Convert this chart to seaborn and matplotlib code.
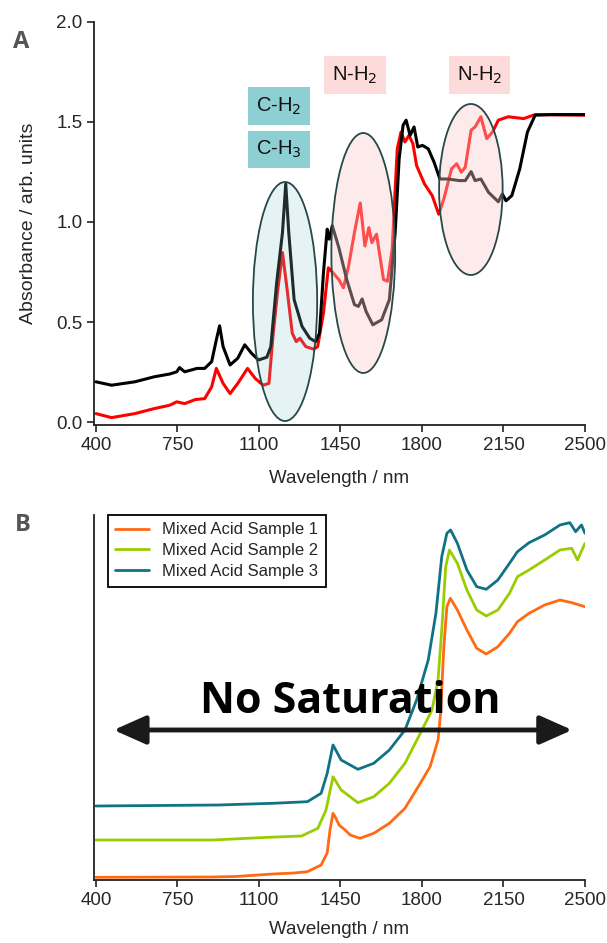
import matplotlib.pyplot as plt
import pandas as pd
import seaborn as sns
from matplotlib.patches import Ellipse

sns.set_theme(style="ticks")
plt.rcParams["font.family"] = ["Liberation Sans", "DejaVu Sans"]

# ---------------- Panel A data ----------------
wl_black = [400, 467, 567, 650, 717, 747, 759, 781, 834, 867, 897, 917, 931, 946,
            976, 1009, 1039, 1068, 1098, 1134, 1151, 1176, 1201, 1215, 1228, 1251,
            1285, 1318, 1343, 1360, 1377, 1393, 1402, 1415, 1443, 1477, 1510, 1527,
            1543, 1560, 1589, 1627, 1660, 1685, 1702, 1719, 1732, 1749, 1766, 1782,
            1802, 1827, 1852, 1877, 1911, 1961, 1986, 2011, 2028, 2053, 2086, 2128,
            2145, 2161, 2186, 2220, 2253, 2286, 2353, 2500]
abs_black = [0.201, 0.184, 0.201, 0.226, 0.240, 0.251, 0.272, 0.251, 0.268, 0.268,
             0.302, 0.411, 0.481, 0.377, 0.285, 0.319, 0.386, 0.344, 0.310, 0.324,
             0.377, 0.696, 0.947, 1.190, 0.947, 0.612, 0.478, 0.419, 0.402, 0.444,
             0.746, 0.964, 0.914, 0.981, 0.872, 0.712, 0.587, 0.578, 0.615, 0.553,
             0.486, 0.511, 0.612, 0.947, 1.316, 1.484, 1.509, 1.433, 1.475, 1.375,
             1.383, 1.366, 1.299, 1.215, 1.215, 1.207, 1.207, 1.252, 1.207, 1.215,
             1.148, 1.101, 1.140, 1.106, 1.132, 1.266, 1.450, 1.534, 1.537, 1.537]

wl_red = [400, 467, 567, 650, 717, 747, 781, 826, 867, 897, 917, 946, 976, 1009,
          1051, 1084, 1118, 1143, 1160, 1181, 1201, 1221, 1243, 1260, 1276, 1301,
          1335, 1352, 1377, 1398, 1418, 1443, 1463, 1485, 1510, 1535, 1555, 1572,
          1585, 1605, 1635, 1652, 1672, 1694, 1710, 1727, 1744, 1761, 1777, 1811,
          1844, 1872, 1894, 1927, 1949, 1969, 1986, 2011, 2028, 2053, 2078, 2103,
          2128, 2170, 2237, 2286, 2500]
abs_red = [0.042, 0.022, 0.042, 0.067, 0.084, 0.101, 0.092, 0.112, 0.117, 0.176,
           0.268, 0.193, 0.142, 0.193, 0.268, 0.218, 0.184, 0.193, 0.427, 0.662,
           0.847, 0.662, 0.444, 0.402, 0.419, 0.377, 0.364, 0.377, 0.545, 0.771,
           0.746, 0.712, 0.671, 0.780, 0.947, 1.095, 0.880, 0.972, 0.897, 0.939,
           0.712, 0.704, 0.863, 1.366, 1.450, 1.400, 1.433, 1.392, 1.282, 1.190,
           1.132, 1.039, 1.115, 1.266, 1.291, 1.249, 1.274, 1.459, 1.475, 1.526,
           1.417, 1.450, 1.509, 1.526, 1.517, 1.537, 1.534]

# band labels: text, centre wavelength, centre absorbance, box colour
band_labels = ["C-H$_2$", "C-H$_3$", "N-H$_2$", "N-H$_2$"]
band_x = [1186, 1186, 1512, 2047]
band_y = [1.58, 1.3625, 1.735, 1.735]
band_colors = ["#8ecfd4", "#8ecfd4", "#fddbdb", "#fddbdb"]

# highlighted regions: centre (nm, abs), width (nm), height (abs)
ell_x = [1212, 1548, 2010]
ell_y = [0.6025, 0.845, 1.1625]
ell_w = [276, 274, 273]
ell_h = [1.195, 1.2, 0.855]
ell_fill = [(0.55, 0.80, 0.82, 0.22), (0.99, 0.80, 0.80, 0.38), (0.99, 0.80, 0.80, 0.38)]

# ---------------- Panel B data ----------------
sample_names = ["Mixed Acid Sample 1", "Mixed Acid Sample 2", "Mixed Acid Sample 3"]
sample_colors = ["#ff6a13", "#9acd00", "#0f7385"]

wl_s1 = [400, 900, 1000, 1160, 1250, 1308, 1367, 1393, 1405, 1418, 1430, 1444, 1470,
         1492, 1534, 1593, 1660, 1727, 1784, 1835, 1869, 1880, 1894, 1907, 1922, 1952,
         1993, 2035, 2076, 2126, 2176, 2210, 2260, 2327, 2393, 2443, 2500]
y_s1 = [0.027, 0.030, 0.035, 0.060, 0.070, 0.083, 0.150, 0.270, 0.500, 0.667, 0.620,
        0.550, 0.500, 0.450, 0.417, 0.467, 0.567, 0.717, 0.933, 1.133, 1.400, 1.667,
        2.333, 2.733, 2.817, 2.700, 2.500, 2.317, 2.260, 2.333, 2.467, 2.583, 2.667,
        2.750, 2.800, 2.773, 2.733]

wl_s2 = [400, 900, 1140, 1283, 1353, 1388, 1418, 1453, 1525, 1593, 1660, 1727, 1793,
         1843, 1869, 1885, 1902, 1918, 1952, 1993, 2035, 2076, 2126, 2176, 2210, 2260,
         2327, 2393, 2443, 2468, 2500]
y_s2 = [0.400, 0.400, 0.427, 0.440, 0.517, 0.700, 1.033, 0.900, 0.773, 0.833, 0.967,
        1.167, 1.467, 1.700, 2.000, 2.500, 3.133, 3.300, 3.167, 2.900, 2.700, 2.640,
        2.700, 2.867, 3.033, 3.100, 3.200, 3.300, 3.317, 3.200, 3.367]

wl_s3 = [400, 926, 1159, 1308, 1367, 1393, 1418, 1453, 1525, 1593, 1660, 1727, 1777,
         1827, 1860, 1885, 1907, 1923, 1952, 1993, 2035, 2076, 2126, 2176, 2210, 2260,
         2327, 2393, 2435, 2460, 2485, 2500]
y_s3 = [0.740, 0.750, 0.767, 0.783, 0.867, 1.067, 1.350, 1.200, 1.107, 1.167, 1.300,
        1.500, 1.800, 2.200, 2.667, 3.233, 3.467, 3.500, 3.367, 3.100, 2.933, 2.907,
        3.000, 3.167, 3.283, 3.373, 3.450, 3.550, 3.573, 3.483, 3.550, 3.467]

ticks_x = [400, 750, 1100, 1450, 1800, 2150, 2500]

fig = plt.figure(figsize=(6.07, 9.43), dpi=100)

# -------------------------------------------------------------------
# Panel A
# -------------------------------------------------------------------
axA = fig.add_axes([0.155, 0.5493, 0.8087, 0.4274])
sns.lineplot(x=wl_black, y=abs_black, color="black", lw=2.2, sort=False,
             estimator=None, ax=axA, zorder=3)
sns.lineplot(x=wl_red, y=abs_red, color="#ff0000", lw=2.2, sort=False,
             estimator=None, ax=axA, zorder=2)

for cx, cy, w, h, fc in zip(ell_x, ell_y, ell_w, ell_h, ell_fill):
    axA.add_patch(Ellipse((cx, cy), w, h, facecolor=fc, edgecolor="#274848",
                          lw=1.3, zorder=4))

for txt, bx, by, bc in zip(band_labels, band_x, band_y, band_colors):
    axA.text(bx, by, txt, ha="center", va="center", fontsize=14.5, color="#111111",
             bbox=dict(boxstyle="square,pad=0.4", fc=bc, ec="none"), zorder=5)

axA.set_xlim(392, 2500)
axA.set_ylim(-0.015, 2.0)
axA.set_xticks(ticks_x)
axA.set_yticks([0.0, 0.5, 1.0, 1.5, 2.0])
axA.set_yticklabels(["0.0", "0.5", "1.0", "1.5", "2.0"])
axA.set_xlabel("Wavelength / nm", fontsize=13.5, labelpad=12)
axA.set_ylabel("Absorbance / arb. units", fontsize=14, labelpad=14)
axA.tick_params(labelsize=13.5, length=5, width=1.2, color="#222222")
sns.despine(ax=axA)
for s in ["left", "bottom"]:
    axA.spines[s].set_linewidth(1.3)
    axA.spines[s].set_color("#222222")

fig.text(0.022, 0.955, "A", fontsize=17, fontweight="bold", color="#555555",
         family=["Open Sans", "DejaVu Sans"], va="center")

# -------------------------------------------------------------------
# Panel B
# -------------------------------------------------------------------
dfB = pd.concat([
    pd.DataFrame({"wl": wl_s1, "y": y_s1, "sample": sample_names[0]}),
    pd.DataFrame({"wl": wl_s2, "y": y_s2, "sample": sample_names[1]}),
    pd.DataFrame({"wl": wl_s3, "y": y_s3, "sample": sample_names[2]}),
])

axB = fig.add_axes([0.155, 0.0668, 0.8087, 0.3871])
sns.lineplot(data=dfB, x="wl", y="y", hue="sample", palette=sample_colors,
             lw=2, sort=False, estimator=None, ax=axB)

axB.annotate("", xy=(2445, 1.5), xytext=(476, 1.5),
             arrowprops=dict(arrowstyle="<|-|>,head_length=0.9,head_width=0.4",
                             lw=3.5, color="#1a1a1a", mutation_scale=22,
                             shrinkA=0, shrinkB=0))
axB.text(1491, 1.667, "No Saturation", ha="center", va="baseline", fontsize=31,
         fontweight="bold", color="black", family=["Open Sans", "DejaVu Sans"])

axB.set_xlim(392, 2500)
axB.set_ylim(0, 3.65)
axB.set_xticks(ticks_x)
axB.set_yticks([])
axB.set_xlabel("Wavelength / nm", fontsize=13.5, labelpad=9)
axB.set_ylabel("")
axB.tick_params(labelsize=13.5, length=5, width=1.2, color="#222222")
sns.despine(ax=axB)
for s in ["left", "bottom"]:
    axB.spines[s].set_linewidth(1.3)
    axB.spines[s].set_color("#222222")

leg = axB.legend(loc="upper left", bbox_to_anchor=(0.028, 1.0), borderaxespad=0,
                 fontsize=12, frameon=True, fancybox=False, framealpha=1,
                 handlelength=2.0, labelspacing=0.35, borderpad=0.45)
leg.get_frame().set_edgecolor("black")
leg.get_frame().set_linewidth(1.3)

fig.text(0.025, 0.443, "B", fontsize=17, fontweight="bold", color="#555555",
         family=["Open Sans", "DejaVu Sans"], va="center")

plt.savefig("out.png", dpi=100)
plt.close()
